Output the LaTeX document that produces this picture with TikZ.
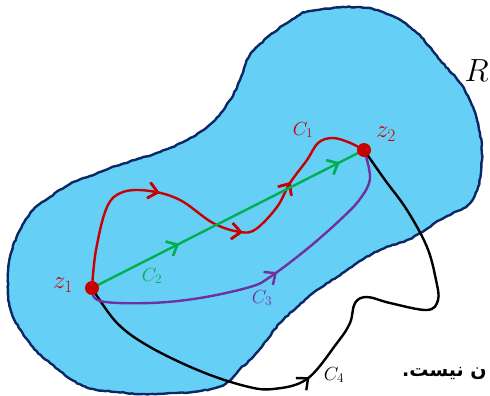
\documentclass[tikz,border=0pt]{standalone}
\usepackage{fontspec}
\usepackage{fix-cm}
\usetikzlibrary{arrows.meta,decorations.markings,decorations.pathmorphing}
\newfontfamily\arabicfont[Script=Arabic]{DejaVu Sans}
\TeXXeTstate=1
\definecolor{blobfill}{RGB}{102,207,246}
\definecolor{blobline}{RGB}{10,40,100}
\definecolor{cred}{RGB}{200,0,0}
\definecolor{cgreen}{RGB}{0,176,80}
\definecolor{cpurple}{RGB}{112,48,160}
\begin{document}
\begin{tikzpicture}[x=1pt,y=-1pt,
  curve/.style={line width=2.4pt, line cap=round, line join=round},
  arrowsat/.style={postaction={decorate}, decoration={markings,
     mark=at position #1 with {\arrow{Straight Barb[length=9pt,width=16pt]}}}},
  dotnode/.style={circle, fill=cred, minimum size=14pt, inner sep=0pt},
  lab/.style={font=\fontsize{19}{22}\selectfont, inner sep=0pt},
  zlab/.style={font=\fontsize{25}{28}\selectfont, inner sep=0pt, text=cred}]
\useasboundingbox (0,0) rectangle (490,396);
\pgfmathsetseed{7}
% region R
\path[fill=blobfill, draw=blobline, line width=2.4pt, line join=round,
  decorate, decoration={random steps, segment length=3pt, amplitude=0.5pt}]
  plot[smooth cycle, tension=0.6] coordinates {
  (310,11) (357,7) (390,15) (417,33) (440,60) (460,83) (473,107) (480,133)
  (482,160) (478,187) (468,205) (453,213) (440,220) (420,233) (407,240)
  (380,250) (357,263) (337,277) (317,290) (297,307) (280,323) (267,340)
  (253,357) (240,369) (225,384) (200,391) (150,394) (117,392) (83,386)
  (50,363) (33,347) (13,317) (8,290) (10,257) (20,230) (33,210) (50,197)
  (70,184) (90,176) (110,168) (135,160) (160,152) (185,141) (200,132)
  (215,120) (230,100) (240,80) (250,55) (273,33) (295,18)};
\coordinate (z1) at (92,288);
\coordinate (z2) at (364,150);
% C4
\draw[curve, black, arrowsat=0.42] plot[smooth, tension=0.6] coordinates {
  (z1) (117,323) (150,347) (200,371) (245,386) (273,389) (307,379)
  (337,343) (350,323) (355,303) (367,297) (390,303) (427,310) (438,300)
  (436,280) (427,247) (407,210) (385,180) (z2)};
% C3
\draw[curve, cpurple, arrowsat=0.55] plot[smooth, tension=0.6] coordinates {
  (z1) (100,301) (150,303) (200,298) (250,287) (270,277) (307,249)
  (340,220) (360,199) (370,178) (z2)};
% C1
\draw[curve, cred, arrowsat=0.35, arrowsat=0.58, arrowsat=0.76] plot[smooth, tension=0.6] coordinates {
  (z1) (96,250) (107,207) (123,192) (150,191) (180,200) (213,223)
  (240,232) (256,229) (277,207) (290,183) (307,160) (318,143) (332,138)
  (348,142) (z2)};
% C2
\draw[curve, cgreen, arrowsat=0.32, arrowsat=0.91] (z1) -- (z2);
% points
\node[dotnode] (p1) at (z1) {};
\node[dotnode] (p2) at (z2) {};
% labels
\node[zlab] (lz1) at (63,285) {$z_1$};
\node[zlab] (lz2) at (386,134) {$z_2$};
\node[lab, text=cred] (lc1) at (303,130) {$C_1$};
\node[lab, text=cgreen] (lc2) at (152,276) {$C_2$};
\node[lab, text=cpurple] (lc3) at (262,298) {$C_3$};
\node[lab, text=black] (lc4) at (334,375) {$C_4$};
\node[font=\fontsize{32}{36}\selectfont, inner sep=0pt, anchor=east] (lr) at (489,71) {$R$};
\node[anchor=base west, inner sep=0pt, font=\arabicfont\bfseries\fontsize{19}{23}\selectfont] (txt) at (402,376) {\beginR ن نیست.\endR};
\end{tikzpicture}
\end{document}
